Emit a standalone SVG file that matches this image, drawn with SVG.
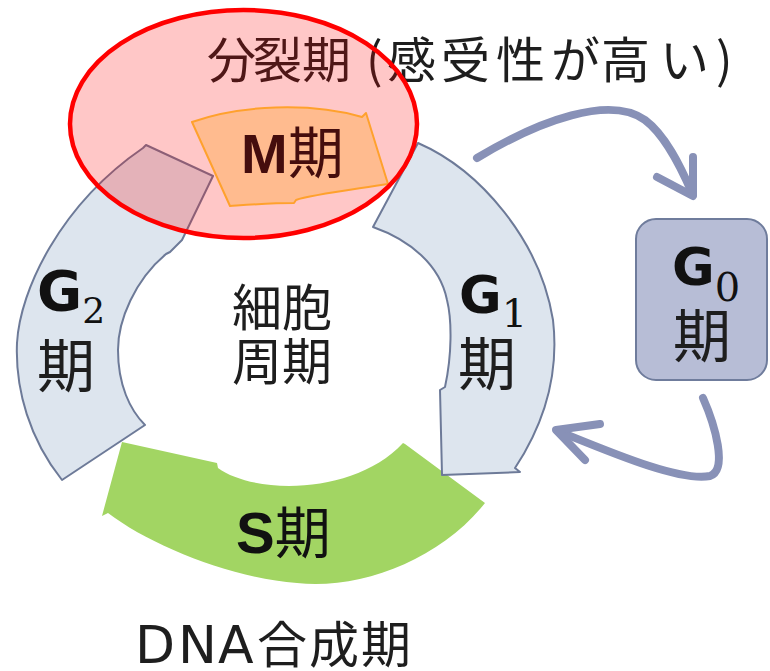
<svg xmlns="http://www.w3.org/2000/svg" width="770" height="671" viewBox="0 0 770 671">
<defs>
<style>
.seg{fill:#dde5ee;stroke:#6d7a98;stroke-width:2;stroke-linejoin:round}
.arrow{fill:none;stroke:#8891b7;stroke-width:8;stroke-linecap:round;stroke-linejoin:round}
.cjk{font-family:"Noto Sans CJK JP","Noto Sans CJK SC",sans-serif;fill:#1e1e1e}
.g{font-family:"DejaVu Sans","Noto Sans CJK JP",sans-serif;font-weight:bold;fill:#111}
.sub{font-family:"DejaVu Serif","Liberation Serif",serif;font-weight:normal}
.lat{font-family:"Liberation Sans","Noto Sans CJK JP",sans-serif;font-weight:bold;fill:#111}
.jn{font-family:"Noto Sans CJK JP",sans-serif;font-weight:normal}
</style>
</defs>
<rect width="770" height="671" fill="#ffffff"/>

<g id="S">
<path d="M122,442 L217,463 L218,468 C255,495 355,495 403,443 L405,444 L485,503 C440,560 360,590 297,583 C230,578 150,545 108,513 L102,516 Z" fill="#a2d563"/>
<text class="lat" x="236" y="553" font-size="58">S<tspan class="jn" font-size="56">期</tspan></text>
</g>

<g id="G2">
<path class="seg" d="M143,148 L146,145 L213,176 L182,240 L170,252 L166,254 C135,280 118,320 118,350 C118,385 130,410 145,425 L62,480 C30,440 15,390 17,343 C20,290 60,205 143,148 Z"/>
<text class="g" x="37" y="310" font-size="55">G<tspan class="sub" font-size="36" dy="13">2</tspan></text>
<text class="cjk" x="37" y="387" font-size="58">期</text>
</g>

<g id="G1">
<path class="seg" d="M418,143 C480,170 540,240 553,320 C560,380 540,430 515,468 L520,472 L442,475 L440,390 L445,387 C452,355 452,320 447,300 C440,265 410,240 373,227 Z"/>
<text class="g" x="459" y="313" font-size="52">G<tspan class="sub" font-size="40" dy="14">1</tspan></text>
<text class="cjk" x="458" y="385" font-size="58">期</text>
</g>

<g id="M">
<path d="M192,122 C240,105 310,102 362,117 L366,113 L388,184 C350,190 310,195 296,200 L294,203 C270,203 245,205 230,206 Z" fill="#fff0b8" stroke="#ffcf3a" stroke-width="2" stroke-linejoin="round"/>
<text class="lat" x="241" y="173" font-size="56">M<tspan class="jn" font-size="56">期</tspan></text>
</g>

<g id="center">
<text class="cjk" x="282" y="326" font-size="50" text-anchor="middle">細胞</text>
<text class="cjk" x="282" y="380" font-size="50" text-anchor="middle">周期</text>
</g>

<g id="G0">
<rect x="636" y="219" width="131" height="161" rx="20" fill="#b7bdd6" stroke="#6f7c9c" stroke-width="2"/>
<text class="g" x="672" y="285" font-size="52">G<tspan class="sub" font-size="40" dy="16">0</tspan></text>
<text class="cjk" x="673" y="357" font-size="58">期</text>
</g>

<g id="connectors">
<path class="arrow" d="M477,158 C540,120 610,95 645,120 C665,135 680,165 692,193"/>
<polyline class="arrow" points="657,177 693,196 693,157"/>
<path class="arrow" d="M703,398 C715,425 728,470 710,476 C680,482 610,452 558,431"/>
<polyline class="arrow" points="600,424 556,430 585,460"/>
</g>

<g id="dna-label">
<text class="cjk" y="663" font-size="50"><tspan font-family="DejaVu Sans" font-size="52" x="135">D</tspan><tspan font-family="DejaVu Sans" font-size="52" x="178">N</tspan><tspan font-family="DejaVu Sans" font-size="52" x="218">A</tspan><tspan x="257">合</tspan><tspan x="309">成</tspan><tspan x="361">期</tspan></text>
</g>

<g id="title">
<text class="cjk" y="78" font-size="49" fill="#333" x="207 253 302 366 387 441 496 551 601 660 716">分裂期(感受性が高い)</text>
</g>

<g id="highlight">
<ellipse cx="243.5" cy="124" rx="173.5" ry="114" fill="#ff0000" fill-opacity="0.22" stroke="#ff0000" stroke-width="4.5"/>
</g>
</svg>
